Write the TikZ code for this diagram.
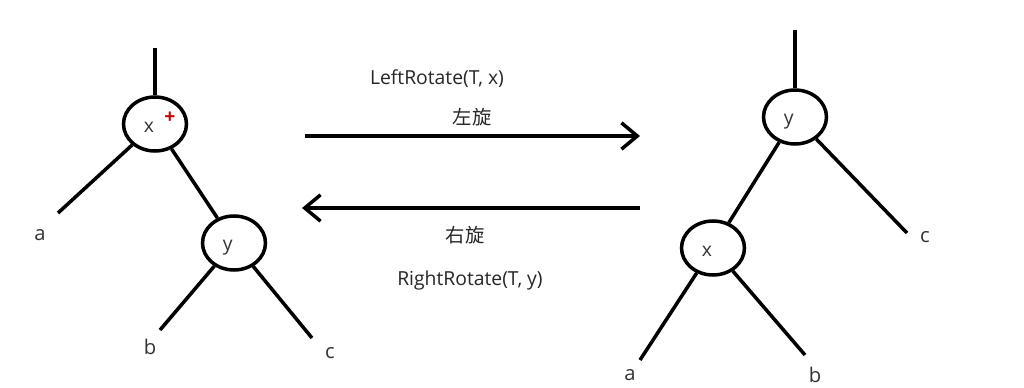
\documentclass[tikz,border=0pt]{standalone}
\usepackage{fontspec}
\setmainfont{Open Sans}
\newfontfamily\cjk{Noto Sans CJK SC}
\usepackage{tikz}
\usetikzlibrary{shapes.geometric, positioning, arrows.meta}

\begin{document}
\begin{tikzpicture}[x=0.02cm, y=-0.02cm, >={Straight Barb[length=9pt, width=15pt]},
  tnode/.style={draw, ellipse, line width=2pt, minimum width=1.26cm, minimum height=1.08cm, inner sep=0pt, font=\fontsize{11}{13}\selectfont, text=black!80},
  branch/.style={line width=2pt},
  leaf/.style={inner sep=0pt, font=\fontsize{11.5}{13}\selectfont, text=black!80},
  caption/.style={inner sep=0pt, font=\fontsize{11}{13}\selectfont, text=black!85},
  rot/.style={->, line width=2pt}]

  \useasboundingbox (0,0) rectangle (1024,388);

  % before: x on top
  \node[tnode] (xl) at (155,124) {\hspace*{-7pt}\raisebox{-5pt}[0pt][0pt]{x}};
  \node[text=red!80!black, inner sep=0pt, font=\bfseries\fontsize{11}{12}\selectfont] (plus) at (170,118) {+};
  \node[tnode] (yl) at (234,243) {\hspace*{-7pt}\raisebox{-4pt}[0pt][0pt]{y}};
  \coordinate (xltop) at (155,48);
  \coordinate (al) at (58,213);
  \coordinate (bl) at (160,330);
  \coordinate (cl) at (312,338);
  \node[leaf] (la) at (40,235) {a};
  \node[leaf] (lb) at (150,347) {b};
  \node[leaf] (lc) at (330,353) {c};

  \draw[branch] (xl) -- (xltop);
  \draw[branch] (xl) -- (al);
  \draw[branch] (xl) -- (yl);
  \draw[branch] (yl) -- (bl);
  \draw[branch] (yl) -- (cl);

  % after: y on top
  \node[tnode] (yr) at (795,117) {\hspace*{-7pt}\raisebox{-4pt}[0pt][0pt]{y}};
  \node[tnode] (xr) at (713,248) {\hspace*{-7pt}\raisebox{-5pt}[0pt][0pt]{x}};
  \coordinate (yrtop) at (795,30);
  \coordinate (cr) at (907,233);
  \coordinate (ar) at (640,360);
  \coordinate (br) at (805,355);
  \node[leaf] (rc) at (925,237) {c};
  \node[leaf] (ra) at (630,375) {a};
  \node[leaf] (rb) at (815,375) {b};

  \draw[branch] (yr) -- (yrtop);
  \draw[branch] (yr) -- (cr);
  \draw[branch] (yr) -- (xr);
  \draw[branch] (xr) -- (ar);
  \draw[branch] (xr) -- (br);

  % rotations
  \coordinate (lfrom) at (305,136);
  \coordinate (lto) at (640,136);
  \coordinate (rfrom) at (640,208);
  \coordinate (rto) at (302,208);
  \draw[rot] (lfrom) -- (lto);
  \draw[rot] (rfrom) -- (rto);

  \node[caption] (lname) at (437,79) {LeftRotate(T, x)};
  \node[caption, font=\cjk\fontsize{11}{13}\selectfont] (lcn) at (472,117) {左旋};
  \node[caption, font=\cjk\fontsize{11}{13}\selectfont] (rcn) at (465,235) {右旋};
  \node[caption] (rname) at (470,280) {RightRotate(T, y)};
\end{tikzpicture}
\end{document}
